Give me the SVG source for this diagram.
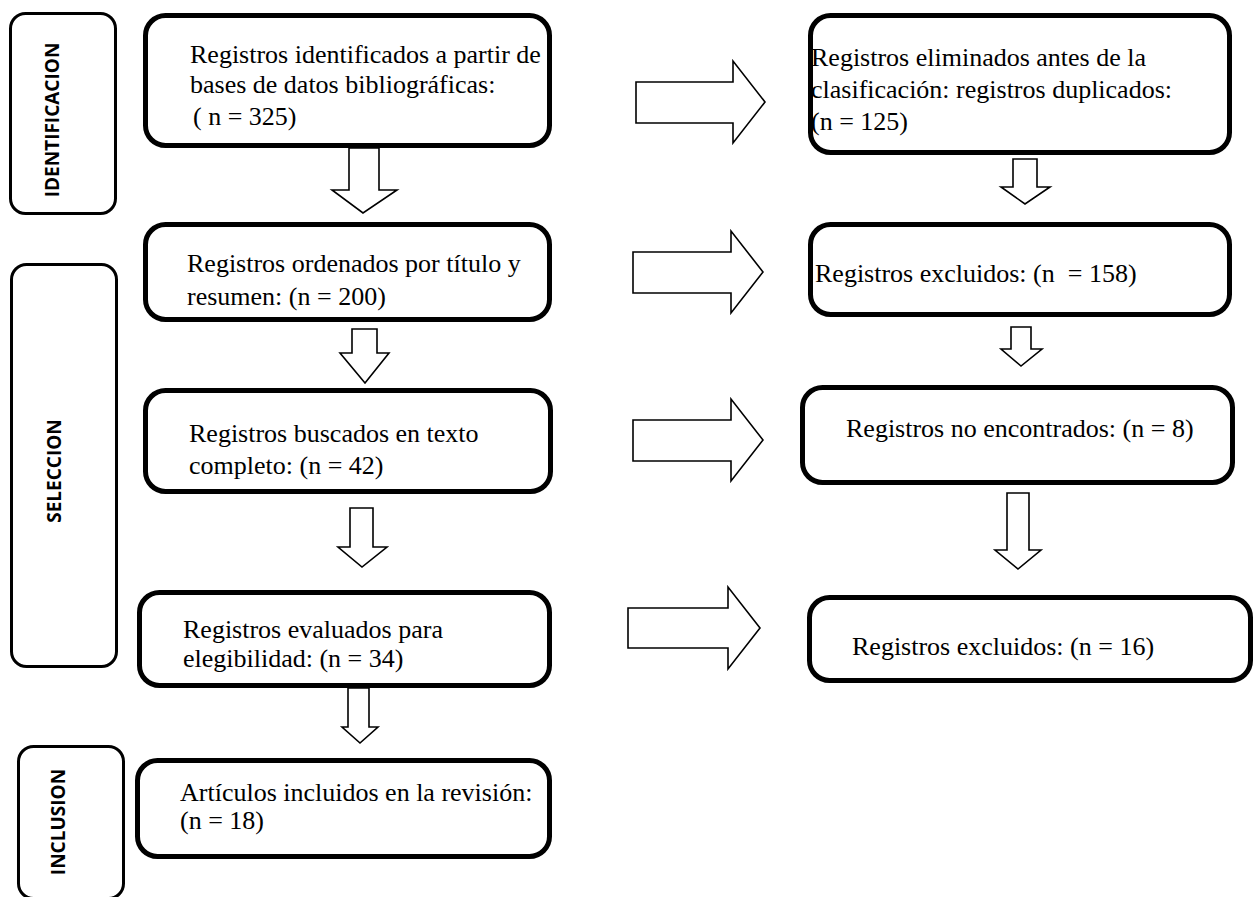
<svg xmlns="http://www.w3.org/2000/svg" width="1255" height="897" viewBox="0 0 1255 897">
<style>
.bg{fill:#ffffff}
.box{fill:#ffffff;stroke:#000000;stroke-width:5}
.side{fill:#ffffff;stroke:#000000;stroke-width:3}
.arr{fill:#ffffff;stroke:#000000;stroke-width:1.6;stroke-linejoin:miter}
.t{font-family:"Liberation Serif","Times New Roman",serif;font-size:26px;fill:#000000;white-space:pre}
.s{font-family:"Open Sans","DejaVu Sans",sans-serif;font-weight:700;font-size:19px;fill:#000000;text-anchor:middle}
</style>
<rect class="bg" x="0" y="0" width="1255" height="897"/>

<g id="stage-identificacion">
<rect class="side" x="10.5" y="13.5" width="105" height="200" rx="15"/>
<text class="s" transform="translate(59,120) rotate(-90)">IDENTIFICACION</text>
</g>
<g id="stage-seleccion">
<rect class="side" x="11.5" y="264.5" width="105" height="402" rx="15"/>
<text class="s" transform="translate(61,471) rotate(-90)">SELECCION</text>
</g>
<g id="stage-inclusion">
<rect class="side" x="18.5" y="746.5" width="105" height="152" rx="15"/>
<text class="s" transform="translate(65,822) rotate(-90)">INCLUSION</text>
</g>

<g id="connectors">
<polygon class="arr" points="636,82 733,82 733,61 765,102 733,143 733,123 636,123"/>
<polygon class="arr" points="633,252 731,252 731,231 763,272 731,313 731,293 633,293"/>
<polygon class="arr" points="633,420 731,420 731,399 763,440 731,481 731,461 633,461"/>
<polygon class="arr" points="628,608 728,608 728,587 760,628 728,669 728,648 628,648"/>
<polygon class="arr" points="349,148 379,148 379,190 397,190 363,213 332,190 349,190"/>
<polygon class="arr" points="352,329 377,329 377,353 389,353 365,383 340,353 352,353"/>
<polygon class="arr" points="350,508 373,508 373,547 387,547 362,567 338,547 350,547"/>
<polygon class="arr" points="348,688 369,688 369,727 378,727 360,743 342,727 348,727"/>
<polygon class="arr" points="1013,159 1037,159 1037,187 1050,187 1025,204 1001,187 1013,187"/>
<polygon class="arr" points="1011,327 1031,327 1031,349 1042,349 1021,366 1001,349 1011,349"/>
<polygon class="arr" points="1007,493 1029,493 1029,550 1041,550 1018,569 995,550 1007,550"/>
</g>

<g id="identified">
<rect class="box" x="145.5" y="15.5" width="404" height="130" rx="20"/>
<text class="t" x="190" y="63">Registros identificados a partir de</text>
<text class="t" x="190" y="93">bases de datos bibliográficas:</text>
<text class="t" x="193" y="125">( n = 325)</text>
</g>
<g id="screened">
<rect class="box" x="145.5" y="224.5" width="404" height="95" rx="20"/>
<text class="t" x="187" y="272">Registros ordenados por título y</text>
<text class="t" x="187" y="305">resumen: (n = 200)</text>
</g>
<g id="sought">
<rect class="box" x="145.5" y="390.5" width="405" height="101" rx="20"/>
<text class="t" x="189" y="442">Registros buscados en texto</text>
<text class="t" x="189" y="474">completo: (n = 42)</text>
</g>
<g id="assessed">
<rect class="box" x="139.5" y="592.5" width="410" height="93" rx="20"/>
<text class="t" x="183" y="638">Registros evaluados para</text>
<text class="t" x="183" y="667">elegibilidad: (n = 34)</text>
</g>
<g id="included">
<rect class="box" x="137.5" y="760.5" width="412" height="96" rx="20"/>
<text class="t" x="180" y="801">Artículos incluidos en la revisión:</text>
<text class="t" x="180" y="829">(n = 18)</text>
</g>

<g id="removed">
<rect class="box" x="810.5" y="15.5" width="419" height="137" rx="20"/>
<text class="t" x="811" y="66">Registros eliminados antes de la</text>
<text class="t" x="811" y="98">clasificación: registros duplicados:</text>
<text class="t" x="811" y="130">(n = 125)</text>
</g>
<g id="excluded-1">
<rect class="box" x="810.5" y="224.5" width="419" height="90" rx="20"/>
<text class="t" x="815" y="282">Registros excluidos: (n  = 158)</text>
</g>
<g id="not-retrieved">
<rect class="box" x="802.5" y="387.5" width="430" height="95" rx="20"/>
<text class="t" x="846" y="437">Registros no encontrados: (n = 8)</text>
</g>
<g id="excluded-2">
<rect class="box" x="809.5" y="597.5" width="441" height="83" rx="20"/>
<text class="t" x="852" y="655">Registros excluidos: (n = 16)</text>
</g>
</svg>
